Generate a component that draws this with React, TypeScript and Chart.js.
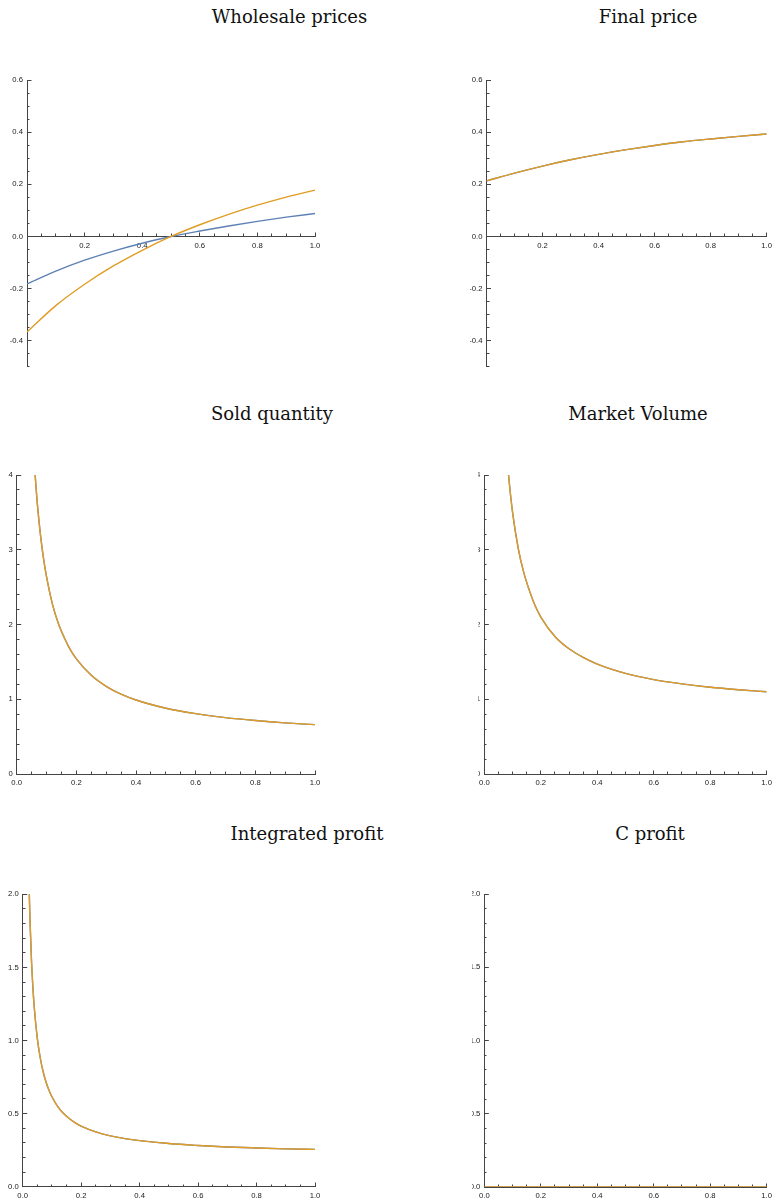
import React, { useEffect, useRef } from "react";
import { Chart, registerables } from "chart.js";

Chart.register(...registerables);

const BLUE = "#5E81B5";
const ORANGE = "#E19C24";
const AXIS = "#444444";
const LABEL = "#1a1a1a";

// ---- Wholesale prices ----
const wholesaleX = [0, 0.1, 0.2, 0.3, 0.4, 0.5, 0.6, 0.7, 0.8, 0.9, 1.0];
const wholesaleBlue = [-0.182, -0.133, -0.091, -0.056, -0.026, 0.0, 0.021, 0.04, 0.058, 0.074, 0.088];
const wholesaleOrange = [-0.366, -0.265, -0.183, -0.113, -0.053, 0.0, 0.045, 0.085, 0.12, 0.151, 0.178];

// ---- Final price ----
const finalX = [0, 0.1, 0.2, 0.3, 0.4, 0.5, 0.6, 0.7, 0.8, 0.9, 1.0];
const finalPrice = [0.213, 0.243, 0.27, 0.294, 0.315, 0.333, 0.349, 0.363, 0.374, 0.384, 0.393];

// ---- Sold quantity ----
const soldX = [0.055, 0.06, 0.07, 0.08, 0.09, 0.1, 0.12, 0.14, 0.16, 0.18, 0.2, 0.25, 0.3, 0.35, 0.4, 0.5, 0.6, 0.7, 0.8, 0.9, 1.0];
const soldQty = [4.44, 4.11, 3.58, 3.19, 2.88, 2.64, 2.27, 2.01, 1.82, 1.66, 1.54, 1.32, 1.173, 1.069, 0.99, 0.88, 0.807, 0.754, 0.715, 0.684, 0.66];

// ---- Market Volume ----
const volumeX = [0.08, 0.086, 0.1, 0.12, 0.14, 0.16, 0.18, 0.2, 0.25, 0.3, 0.35, 0.4, 0.5, 0.6, 0.7, 0.8, 0.9, 1.0];
const marketVolume = [4.26, 3.99, 3.5, 3.02, 2.69, 2.45, 2.25, 2.1, 1.84, 1.675, 1.56, 1.47, 1.346, 1.263, 1.205, 1.16, 1.127, 1.1];

// ---- Integrated profit ----
const profitX = [0.02, 0.025, 0.03, 0.035, 0.04, 0.05, 0.06, 0.07, 0.08, 0.09, 0.1, 0.12, 0.14, 0.16, 0.18, 0.2, 0.25, 0.3, 0.35, 0.4, 0.5, 0.6, 0.7, 0.8, 0.9, 1.0];
const integratedProfit = [2.2, 1.82, 1.55, 1.36, 1.215, 1.015, 0.882, 0.786, 0.715, 0.66, 0.615, 0.548, 0.5, 0.465, 0.437, 0.415, 0.375, 0.348, 0.329, 0.315, 0.295, 0.282, 0.272, 0.265, 0.259, 0.255];

// ---- C profit ----
const cProfitX = [0, 0.25, 0.5, 0.75, 1.0];
const cProfit = [0, 0, 0, 0, 0];

// ---- ticks ----
const xTicksNoZero = [0.2, 0.4, 0.6, 0.8, 1.0];
const xTicksWithZero = [0, 0.2, 0.4, 0.6, 0.8, 1.0];
const yTicksPrice = [-0.4, -0.2, 0, 0.2, 0.4, 0.6];
const yTicksQty = [0, 1, 2, 3, 4];
const yTicksProfit = [0, 0.5, 1.0, 1.5, 2.0];

type Series = { x: number[]; y: number[] };

type PanelSpec = {
  title: string;
  titleCx: number;
  titleTop: number;
  left: number;
  top: number;
  width: number;
  height: number;
  yAxisWidth: number;
  padTop: number;
  padRight: number;
  padBottom: number;
  yMin: number;
  yMax: number;
  xTicks: number[];
  yTicks: number[];
  yMinorStep: number;
  yDecimals: number;
  blue: Series;
  orange: Series;
};

const panels: PanelSpec[] = [
  {
    title: "Wholesale prices", titleCx: 289.5, titleTop: 6,
    left: 0, top: 60, width: 340, height: 320, yAxisWidth: 27,
    padTop: 20, padRight: 25, padBottom: 13,
    yMin: -0.5, yMax: 0.6, xTicks: xTicksNoZero, yTicks: yTicksPrice, yMinorStep: 0.05, yDecimals: 1,
    blue: { x: wholesaleX, y: wholesaleBlue }, orange: { x: wholesaleX, y: wholesaleOrange },
  },
  {
    title: "Final price", titleCx: 648, titleTop: 6,
    left: 470, top: 60, width: 311, height: 320, yAxisWidth: 16.5,
    padTop: 20, padRight: 6, padBottom: 13,
    yMin: -0.5, yMax: 0.6, xTicks: xTicksNoZero, yTicks: yTicksPrice, yMinorStep: 0.05, yDecimals: 1,
    blue: { x: finalX, y: finalPrice }, orange: { x: finalX, y: finalPrice },
  },
  {
    title: "Sold quantity", titleCx: 272, titleTop: 403,
    left: 0, top: 460, width: 340, height: 340, yAxisWidth: 16.7,
    padTop: 15, padRight: 25, padBottom: 26,
    yMin: 0, yMax: 4, xTicks: xTicksWithZero, yTicks: yTicksQty, yMinorStep: 0.2, yDecimals: 0,
    blue: { x: soldX, y: soldQty }, orange: { x: soldX, y: soldQty },
  },
  {
    title: "Market Volume", titleCx: 638, titleTop: 403,
    left: 470, top: 460, width: 311, height: 340, yAxisWidth: 6,
    padTop: 15, padRight: 6, padBottom: 26,
    yMin: 0, yMax: 4, xTicks: xTicksWithZero, yTicks: yTicksQty, yMinorStep: 0.2, yDecimals: 0,
    blue: { x: volumeX, y: marketVolume }, orange: { x: volumeX, y: marketVolume },
  },
  {
    title: "Integrated profit", titleCx: 307, titleTop: 823,
    left: 0, top: 880, width: 340, height: 321, yAxisWidth: 22.7,
    padTop: 14.3, padRight: 25, padBottom: 14.3,
    yMin: 0, yMax: 2, xTicks: xTicksWithZero, yTicks: yTicksProfit, yMinorStep: 0.1, yDecimals: 1,
    blue: { x: profitX, y: integratedProfit }, orange: { x: profitX, y: integratedProfit },
  },
  {
    title: "C profit", titleCx: 650, titleTop: 823,
    left: 470, top: 880, width: 311, height: 321, yAxisWidth: 12.3,
    padTop: 14, padRight: 6, padBottom: 14,
    yMin: 0, yMax: 2, xTicks: xTicksWithZero, yTicks: yTicksProfit, yMinorStep: 0.1, yDecimals: 1,
    blue: { x: cProfitX, y: cProfit }, orange: { x: cProfitX, y: cProfit },
  },
];

const fmt = (v: number, d: number) => (Math.abs(v) < 1e-9 ? 0 : v).toFixed(d);
const TICK_FONT = { family: "'Liberation Sans', Arial, sans-serif", size: 7.7 };

function toPoints(s: Series) {
  return s.x.map((x, i) => ({ x, y: s.y[i] }));
}

function Panel({ spec }: { spec: PanelSpec }) {
  const ref = useRef<HTMLCanvasElement | null>(null);
  useEffect(() => {
    if (!ref.current) return;
    const minorGrid = {
      display: true,
      drawOnChartArea: false,
      drawTicks: true,
      tickLength: -2.5,
      color: AXIS,
      lineWidth: 1,
    };
    const majorGrid = { ...minorGrid, tickLength: -4.5 };
    const chart = new Chart(ref.current, {
      type: "line",
      data: {
        datasets: [
          {
            data: toPoints(spec.orange),
            borderColor: ORANGE,
            borderWidth: 1.4,
            pointRadius: 0,
            cubicInterpolationMode: "monotone",
            order: 0,
          },
          {
            data: toPoints(spec.blue),
            borderColor: BLUE,
            borderWidth: 1.4,
            pointRadius: 0,
            cubicInterpolationMode: "monotone",
            order: 1,
          },
        ],
      },
      options: {
        animation: false,
        responsive: false,
        maintainAspectRatio: false,
        events: [],
        layout: { padding: { left: 0, top: spec.padTop, right: spec.padRight, bottom: spec.padBottom } },
        plugins: { legend: { display: false }, tooltip: { enabled: false }, title: { display: false } },
        scales: {
          x: {
            type: "linear",
            min: 0,
            max: 1,
            position: { y: 0 } as any,
            afterBuildTicks: (s: any) => {
              s.ticks = spec.xTicks.map((v) => ({ value: v }));
            },
            ticks: {
              callback: (v: any) => fmt(Number(v), 1),
              autoSkip: false,
              maxRotation: 0,
              padding: 9,
              font: TICK_FONT,
              color: LABEL,
            },
            grid: majorGrid,
            border: { display: true, color: AXIS, width: 1 },
          },
          x2: {
            type: "linear",
            axis: "x",
            min: 0,
            max: 1,
            position: { y: 0 } as any,
            ticks: { stepSize: 0.05, callback: () => "", autoSkip: false, maxRotation: 0, font: TICK_FONT },
            grid: minorGrid,
            border: { display: false },
          },
          y: {
            type: "linear",
            position: "left",
            min: spec.yMin,
            max: spec.yMax,
            afterFit: (s: any) => {
              s.width = spec.yAxisWidth;
            },
            afterBuildTicks: (s: any) => {
              s.ticks = spec.yTicks.map((v) => ({ value: v }));
            },
            ticks: {
              callback: (v: any) => fmt(Number(v), spec.yDecimals),
              autoSkip: false,
              padding: 8.5,
              font: TICK_FONT,
              color: LABEL,
            },
            grid: majorGrid,
            border: { display: true, color: AXIS, width: 1 },
          },
          y2: {
            type: "linear",
            axis: "y",
            min: spec.yMin,
            max: spec.yMax,
            position: { x: 0 } as any,
            ticks: { stepSize: spec.yMinorStep, callback: () => "", autoSkip: false, font: TICK_FONT },
            grid: minorGrid,
            border: { display: false },
          },
        },
      } as any,
    });
    return () => chart.destroy();
  }, [spec]);

  return (
    <>
      <div
        style={{
          position: "absolute",
          left: spec.titleCx - 200,
          top: spec.titleTop,
          width: 400,
          textAlign: "center",
          fontFamily: "'DejaVu Serif', serif",
          fontSize: 18,
          lineHeight: "21px",
          color: "#111",
          whiteSpace: "nowrap",
        }}
      >
        {spec.title}
      </div>
      <canvas
        ref={ref}
        width={spec.width}
        height={spec.height}
        style={{ position: "absolute", left: spec.left, top: spec.top, width: spec.width, height: spec.height, display: "block" }}
      />
    </>
  );
}

export default function App() {
  return (
    <div style={{ position: "absolute", left: 0, top: 0, width: 781, height: 1201, background: "#fff", overflow: "hidden" }}>
      {panels.map((p, i) => (
        <Panel key={i} spec={p} />
      ))}
    </div>
  );
}
